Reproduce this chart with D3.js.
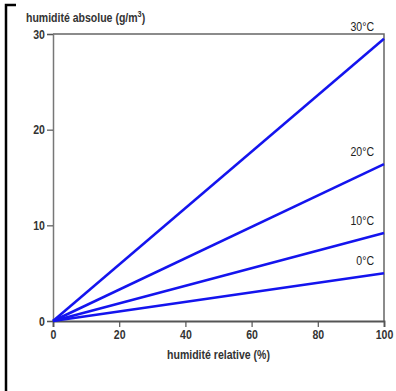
<!DOCTYPE html>
<html lang="fr">
<head>
<meta charset="UTF-8">
<script src="https://d3js.org/d3.v7.min.js"></script>
<style>
  body { margin: 0; background: #fff; }
  svg { display: block; font-family: "Liberation Sans", Arial, sans-serif; }
  .tick text { font-weight: bold; fill: #333; font-size: 13px; }
</style>
</head>
<body>
<svg id="chart" width="396" height="391"></svg>
<script>
// data
const temps = ["0°C", "10°C", "20°C", "30°C"];
const relHum = [0, 100];
const absHumAt100 = [5.0, 9.2, 16.4, 29.5];
const xTicks = [0, 20, 40, 60, 80, 100];
const yTicks = [0, 10, 20, 30];

const svg = d3.select("#chart");
const margin = { left: 53, right: 12, top: 34, bottom: 70 };
const W = 396, H = 391;
const narrow = 0.81; // the original uses a condensed face

const x = d3.scaleLinear().domain([0, 100]).range([margin.left, W - margin.right]);
const y = d3.scaleLinear().domain([0, 30]).range([H - margin.bottom, margin.top]);

// condensed text helper: positioned at (tx,ty) then squeezed horizontally
function label(tx, ty, anchor) {
  return svg.append("text")
    .attr("transform", `translate(${tx},${ty}) scale(${narrow},1)`)
    .attr("text-anchor", anchor || "start");
}

// page frame corner
svg.append("path").attr("d", "M6,391 V5 H16").attr("fill", "none").attr("stroke", "#000").attr("stroke-width", 2.5);

// plot frame (top + right)
svg.append("path")
  .attr("d", `M${x(0)},${y(30)} H${x(100)} V${y(0)}`)
  .attr("fill", "none").attr("stroke", "#666").attr("stroke-width", 1.5);

const yAxis = svg.append("g").attr("transform", `translate(${x(0)},0)`)
  .call(d3.axisLeft(y).tickValues(yTicks).tickSize(6).tickPadding(4));
yAxis.select(".domain").attr("stroke", "#777").attr("stroke-width", 1.5);
yAxis.selectAll(".tick line").attr("stroke", "#555").attr("stroke-width", 1.2);
yAxis.selectAll(".tick text").attr("transform", `scale(${narrow},1)`);

const xAxis = svg.append("g").attr("transform", `translate(0,${y(0)})`)
  .call(d3.axisBottom(x).tickValues(xTicks).tickSize(6).tickPadding(3));
xAxis.select(".domain").attr("stroke", "#555").attr("stroke-width", 1.8);
xAxis.selectAll(".tick line").attr("stroke", "#555").attr("stroke-width", 1.2);
xAxis.selectAll(".tick text").attr("transform", `scale(${narrow},1)`);

// lines
const line = d3.line().x(d => x(d[0])).y(d => y(d[1]));
temps.forEach((t, i) => {
  const pts = relHum.map(r => [r, absHumAt100[i] * r / 100]);
  svg.append("path").datum(pts).attr("d", line)
    .attr("fill", "none").attr("stroke", "#1414ee").attr("stroke-width", 2.5);
  label(x(100) - 10, y(absHumAt100[i]) - 8, "end")
    .attr("font-size", 13).attr("fill", "#222")
    .text(t);
});

// titles
label(26, 22).attr("font-size", 13).attr("font-weight", "bold").attr("fill", "#333")
  .html('humidité absolue (g/m<tspan dy="-5" font-size="9">3</tspan><tspan dy="5">)</tspan>');
label((x(0) + x(100)) / 2, 359, "middle")
  .attr("font-size", 13).attr("font-weight", "bold").attr("fill", "#333")
  .text("humidité relative (%)");
</script>
</body>
</html>
